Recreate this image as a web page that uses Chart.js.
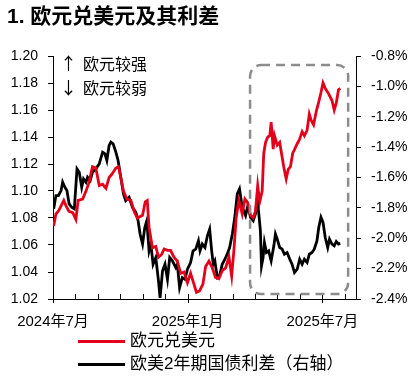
<!DOCTYPE html>
<html><head><meta charset="utf-8">
<script src="https://cdn.jsdelivr.net/npm/chart.js@4/dist/chart.umd.min.js"></script>
<style>
html,body{margin:0;padding:0;background:#fff;}
#wrap{position:relative;width:416px;height:377px;overflow:hidden;}
#c{position:absolute;left:0;top:0;}
.t{position:absolute;white-space:nowrap;color:#000;font-family:"Liberation Sans","Noto Sans CJK SC",sans-serif;line-height:1.2;}
#title{left:7px;top:3px;font-size:21px;font-weight:bold;}
.ar{font-family:"Noto Sans CJK SC",sans-serif;font-size:17px;left:60px;}
.ann{font-size:16px;left:83px;}
.lg{font-size:17px;left:130px;}
.ln{position:absolute;left:78px;width:47px;height:3px;}
</style></head>
<body><div id="wrap">
<canvas id="c" width="416" height="377"></canvas>
<div class="t" id="title">1. 欧元兑美元及其利差</div>
<div class="t ar" style="top:53px">↑</div>
<div class="t ann" style="top:55px">欧元较强</div>
<div class="t ar" style="top:77px">↓</div>
<div class="t ann" style="top:79px">欧元较弱</div>
<div class="ln" style="top:340px;background:#e3001b"></div>
<div class="t lg" style="top:331px">欧元兑美元</div>
<div class="ln" style="top:363px;background:#000"></div>
<div class="t lg" style="top:354px">欧美2年期国债利差（右轴）</div>
</div>
<script>
// x values: months since 2024-07-01
const eurX = [0.03,0.13,0.24,0.36,0.48,0.58,0.71,0.88,1.02,1.12,1.32,1.47,1.60,1.76,1.91,2.06,2.21,2.36,2.50,2.65,2.80,2.92,3.02,3.14,3.29,3.47,3.61,3.76,3.99,4.11,4.20,4.28,4.43,4.58,4.70,4.84,4.95,5.10,5.24,5.39,5.54,5.69,5.84,5.99,6.13,6.28,6.39,6.53,6.68,6.80,6.95,7.10,7.24,7.39,7.54,7.69,7.84,7.96,8.06,8.16,8.28,8.43,8.55,8.68,8.80,8.92,9.02,9.12,9.21,9.32,9.39,9.47,9.57,9.66,9.72,9.81,9.87,9.99,10.10,10.21,10.28,10.39,10.48,10.58,10.68,10.77,10.88,10.98,11.10,11.20,11.32,11.42,11.51,11.61,11.73,11.84,11.94,12.03,12.13,12.28,12.43,12.53,12.62,12.72,12.80];
const eurUsd = [1.074,1.083,1.085,1.089,1.093,1.089,1.085,1.084,1.079,1.093,1.094,1.100,1.106,1.118,1.117,1.104,1.105,1.102,1.110,1.113,1.117,1.118,1.110,1.100,1.094,1.093,1.085,1.080,1.082,1.092,1.093,1.073,1.058,1.059,1.051,1.053,1.057,1.056,1.056,1.051,1.048,1.039,1.040,1.032,1.039,1.031,1.025,1.026,1.031,1.044,1.048,1.043,1.036,1.035,1.041,1.043,1.051,1.037,1.056,1.080,1.093,1.083,1.094,1.091,1.082,1.080,1.085,1.104,1.092,1.100,1.128,1.136,1.140,1.141,1.151,1.131,1.141,1.134,1.136,1.125,1.118,1.109,1.116,1.118,1.128,1.131,1.135,1.138,1.144,1.141,1.145,1.157,1.152,1.149,1.159,1.166,1.173,1.180,1.176,1.172,1.167,1.160,1.165,1.175,1.176];
const sprX = [0.03,0.13,0.24,0.36,0.43,0.53,0.62,0.72,0.83,0.95,1.07,1.17,1.28,1.36,1.47,1.54,1.66,1.76,1.91,2.06,2.21,2.31,2.40,2.50,2.58,2.68,2.80,2.90,3.02,3.14,3.24,3.39,3.54,3.69,3.79,3.88,3.99,4.09,4.18,4.28,4.36,4.46,4.58,4.70,4.77,4.88,4.99,5.10,5.20,5.32,5.47,5.54,5.64,5.76,5.88,5.99,6.13,6.24,6.36,6.48,6.55,6.65,6.77,6.88,6.98,7.07,7.14,7.21,7.32,7.42,7.54,7.66,7.76,7.87,7.99,8.10,8.21,8.31,8.43,8.58,8.68,8.80,8.92,9.02,9.10,9.17,9.24,9.29,9.36,9.42,9.51,9.61,9.72,9.84,9.91,9.99,10.10,10.21,10.31,10.43,10.55,10.65,10.76,10.88,10.99,11.10,11.20,11.32,11.42,11.54,11.64,11.76,11.84,11.94,12.03,12.13,12.24,12.32,12.43,12.53,12.62,12.72,12.80];
const spread2y = [-1.807,-1.719,-1.719,-1.686,-1.631,-1.664,-1.686,-1.774,-1.796,-1.807,-1.543,-1.565,-1.664,-1.609,-1.631,-1.598,-1.620,-1.565,-1.543,-1.510,-1.433,-1.443,-1.488,-1.389,-1.367,-1.378,-1.433,-1.488,-1.598,-1.708,-1.752,-1.730,-1.796,-1.829,-1.884,-1.972,-2.038,-1.929,-1.884,-2.083,-2.038,-2.171,-2.127,-2.281,-2.392,-2.215,-2.171,-2.270,-2.127,-2.149,-2.193,-2.171,-2.325,-2.259,-2.270,-2.204,-2.160,-2.083,-2.072,-2.017,-2.083,-2.038,-2.061,-1.984,-1.940,-2.083,-2.171,-2.149,-2.259,-2.248,-2.171,-2.138,-2.105,-2.061,-1.972,-1.862,-1.708,-1.675,-1.796,-1.851,-1.785,-1.862,-1.884,-1.840,-1.741,-1.840,-1.950,-2.182,-2.127,-2.028,-2.094,-2.083,-2.149,-2.050,-1.972,-2.006,-2.061,-2.072,-2.105,-2.094,-2.138,-2.171,-2.226,-2.204,-2.138,-2.171,-2.138,-2.160,-2.105,-2.094,-2.072,-2.017,-1.929,-1.862,-1.895,-1.995,-2.061,-2.006,-2.038,-2.050,-2.021,-2.038,-2.034];
const xTickLabels = {0:'2024年7月',6:'2025年1月',12:'2025年7月'};
const majorTicks = [0,6,12];
// highlight box in data units (months, left-axis value)
const boxX = [8.78, 13.15];
const boxY = [1.0237, 1.1933];

const numFont = {family:'"Liberation Sans", Arial, sans-serif', size:14};
const cjkFont = {family:'"Liberation Sans","Noto Sans CJK SC", sans-serif', size:15};

const extras = {
  id:'extras',
  afterDatasetsDraw(chart){
    const ctx = chart.ctx, xs = chart.scales.x, ys = chart.scales.y;
    const b = chart.chartArea.bottom;
    ctx.save();
    ctx.strokeStyle = '#000'; ctx.lineWidth = 1;
    for (let m = 0; m <= 13; m++) {
      const px = Math.round(xs.getPixelForValue(m)) + 0.5;
      ctx.beginPath();
      const maj = majorTicks.includes(m);
      ctx.moveTo(px, b - 5);
      ctx.lineTo(px, maj ? b + 4 : b);
      ctx.stroke();
    }
    const x0 = xs.getPixelForValue(boxX[0]), x1 = xs.getPixelForValue(boxX[1]);
    const y0 = ys.getPixelForValue(boxY[1]), y1 = ys.getPixelForValue(boxY[0]);
    ctx.strokeStyle = '#8c8c8c'; ctx.lineWidth = 2.5; ctx.setLineDash([9,6]);
    ctx.beginPath();
    ctx.roundRect(x0, y0, x1 - x0, y1 - y0, 11);
    ctx.stroke();
    ctx.restore();
  }
};

new Chart(document.getElementById('c'), {
  type:'line',
  data:{datasets:[
    {label:'欧元兑美元', data:eurX.map((x,i)=>({x, y:eurUsd[i]})), borderColor:'#e3001b', borderWidth:2.8, pointRadius:0, yAxisID:'y', tension:0},
    {label:'欧美2年期国债利差（右轴）', data:sprX.map((x,i)=>({x, y:spread2y[i]})), borderColor:'#000', borderWidth:2.8, pointRadius:0, yAxisID:'y1', tension:0}
  ]},
  options:{
    responsive:false, animation:false, devicePixelRatio:1,
    layout:{padding:{top:56, bottom:0, left:0, right:0}},
    plugins:{legend:{display:false}, title:{display:false}, tooltip:{enabled:false}},
    scales:{
      x:{type:'linear', min:0, max:13.5,
        ticks:{stepSize:1, autoSkip:false, maxRotation:0, padding:9, color:'#000', font:cjkFont,
          callback:v=>xTickLabels[v] || ''},
        grid:{display:true, drawOnChartArea:false, drawTicks:true, tickLength:5, color:'rgba(0,0,0,0)'},
        border:{display:true, color:'#000', width:1},
        afterFit:s=>{s.height = 78;}
      },
      y:{position:'left', min:1.02, max:1.20,
        ticks:{stepSize:0.02, padding:10, color:'#000', font:numFont, callback:v=>v.toFixed(2)},
        grid:{display:true, drawOnChartArea:false, drawTicks:true, tickLength:5, color:'#000'},
        border:{display:true, color:'#000', width:1},
        afterFit:s=>{s.width = 53;}
      },
      y1:{position:'right', min:-2.4, max:-0.8,
        ticks:{stepSize:0.2, padding:10, color:'#000', font:numFont, callback:v=>v.toFixed(1)+'%'},
        grid:{display:true, drawOnChartArea:false, drawTicks:true, tickLength:5, color:'#000'},
        border:{display:true, color:'#000', width:1},
        afterFit:s=>{s.width = 60;}
      }
    }
  },
  plugins:[extras]
});
</script>
</body></html>
